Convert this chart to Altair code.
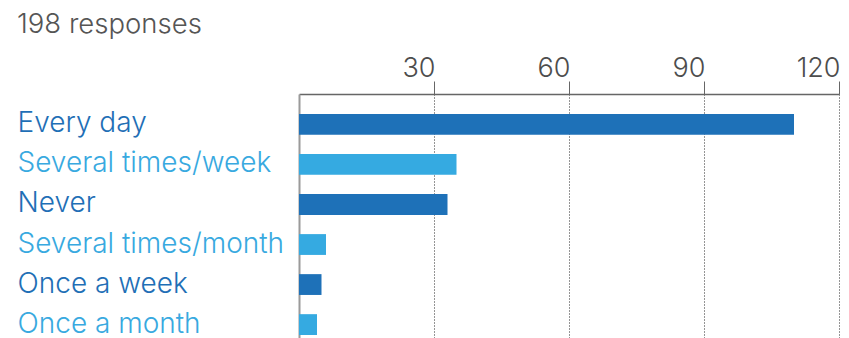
import json
import altair as alt
import pandas as pd

# ---- data ----
categories = ["Every day", "Several times/week", "Never",
              "Several times/month", "Once a week", "Once a month"]
counts = [110, 35, 33, 6, 5, 4]
shades = ["dark", "light", "dark", "light", "dark", "light"]
tick_values = [30, 60, 90, 120]
subtitle = "198 responses"

DARK = "#1e71b8"
LIGHT = "#35aae1"
FONT = "Inter"
FS = 28

df = pd.DataFrame({"answer": categories, "count": counts, "shade": shades})

dark_labels = [c for c, s in zip(categories, shades) if s == "dark"]
dark_test = "indexof(" + json.dumps(dark_labels) + ", datum.value) >= 0"

bars = alt.Chart(df).mark_bar().encode(
    x=alt.X(
        "count:Q",
        scale=alt.Scale(domain=[0, 120], nice=False, zero=True),
        axis=alt.Axis(
            orient="top", values=tick_values, title=None,
            labelAlign="right", labelOffset=1, labelBaseline="alphabetic",
            labelPadding=5, labelFont=FONT, labelFontSize=27,
            labelFontWeight=300, labelColor="#4d4d4d",
            tickSize=13, tickColor="#666666", tickWidth=1,
            domainColor="#666666", domainWidth=1.5,
            grid=True, gridColor="#2a2a2a", gridDash=[1, 2], gridWidth=1,
        ),
    ),
    y=alt.Y(
        "answer:N", sort=categories,
        scale=alt.Scale(paddingInner=0.48, paddingOuter=0.5),
        axis=alt.Axis(
            title=None, ticks=False, grid=False,
            labelAlign="left", labelBaseline="middle", labelPadding=282,
            labelLimit=400, labelFont=FONT, labelFontSize=FS,
            labelFontWeight=300,
            labelColor={"condition": {"test": dark_test, "value": "#1f6fb6"},
                        "value": "#38a9e0"},
            domainColor="#9a9a9a", domainWidth=2,
        ),
    ),
    color=alt.Color("shade:N",
                    scale=alt.Scale(domain=["dark", "light"], range=[DARK, LIGHT]),
                    legend=None),
)

sub = alt.Chart(pd.DataFrame({"t": [subtitle]})).mark_text(
    align="left", baseline="alphabetic", font=FONT, fontSize=27.5,
    fontWeight=300, color="#555555",
).encode(x=alt.value(-282), y=alt.value(-61), text="t:N")

chart = alt.layer(bars, sub).properties(
    width=540, height=261,
    autosize=alt.AutoSizeParams(type="none"),
    padding={"left": 291, "top": 86, "right": 2, "bottom": 5},
).configure_view(strokeWidth=0)

chart.save("out.html", embed_options={"renderer": "svg", "actions": False})
